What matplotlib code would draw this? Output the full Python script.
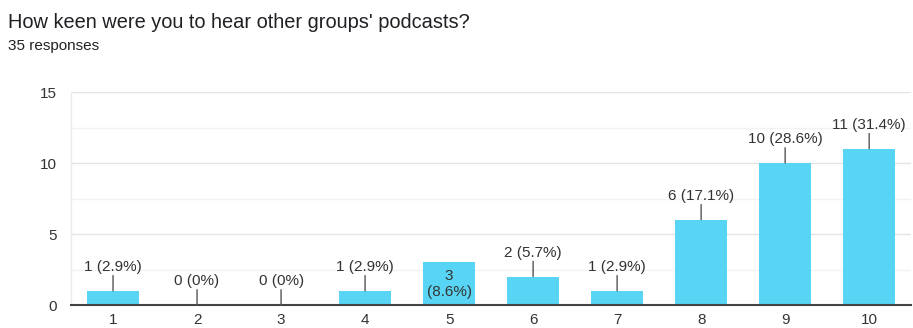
import matplotlib.pyplot as plt
import numpy as np

plt.rcParams['font.family'] = ['Liberation Sans', 'DejaVu Sans']

# Data
categories = ['1', '2', '3', '4', '5', '6', '7', '8', '9', '10']
counts = [1, 0, 0, 1, 3, 2, 1, 6, 10, 11]
percents = ['2.9%', '0%', '0%', '2.9%', '8.6%', '5.7%', '2.9%', '17.1%', '28.6%', '31.4%']
inside_labels = ['5']

bar_color = '#58d4f4'
text_color = '#333333'

fig = plt.figure(figsize=(9.13, 3.28), dpi=100)
ax = fig.add_axes([0.0778, 0.0701, 0.9202, 0.6494])

x = np.arange(len(categories))
ax.bar(x, counts, width=0.62, color=bar_color, zorder=3)

ax.set_xlim(-0.5, len(categories) - 0.5)
ax.set_ylim(0, 15)
ax.set_yticks([0, 5, 10, 15])
ax.set_yticks([2.5, 7.5, 12.5], minor=True)
ax.set_xticks(x)
ax.set_xticklabels(categories)

ax.grid(axis='y', which='major', color='#e4e4e4', linewidth=1, zorder=0)
ax.grid(axis='y', which='minor', color='#f2f2f2', linewidth=1, zorder=0)
for s in ['top', 'right']:
    ax.spines[s].set_visible(False)
ax.spines['left'].set_color('#ebebeb')
ax.spines['left'].set_linewidth(1)
ax.spines['bottom'].set_color('#444444')
ax.spines['bottom'].set_linewidth(1.5)
ax.spines['bottom'].set_zorder(4)
ax.tick_params(axis='both', which='both', length=0, labelsize=11, colors='#333333')
ax.tick_params(axis='y', pad=10)
ax.tick_params(axis='x', pad=6)

# value labels
for xi, cat, v, p in zip(x, categories, counts, percents):
    if cat in inside_labels:
        ax.text(xi, v / 2, f'{v}\n({p})', ha='center', va='center',
                fontsize=11, color=text_color, zorder=5, linespacing=1.2)
    else:
        ax.annotate('', xy=(xi, v), xytext=(0, 11), textcoords='offset points',
                    arrowprops=dict(arrowstyle='-', color='#555555', lw=1,
                                    shrinkA=0, shrinkB=0), zorder=5)
        ax.annotate(f'{v} ({p})', xy=(xi, v), xytext=(0, 12),
                    textcoords='offset points', ha='center', va='bottom',
                    fontsize=11, color=text_color, zorder=5)

fig.text(8 / 913, 1 - 22 / 328, "How keen were you to hear other groups' podcasts?",
         ha='left', va='center', fontsize=14.4, color='#202124')
fig.text(8 / 913, 1 - 46 / 328, '35 responses', ha='left', va='center',
         fontsize=11, color='#202124')

fig.savefig('out.png', dpi=100, facecolor='white')
